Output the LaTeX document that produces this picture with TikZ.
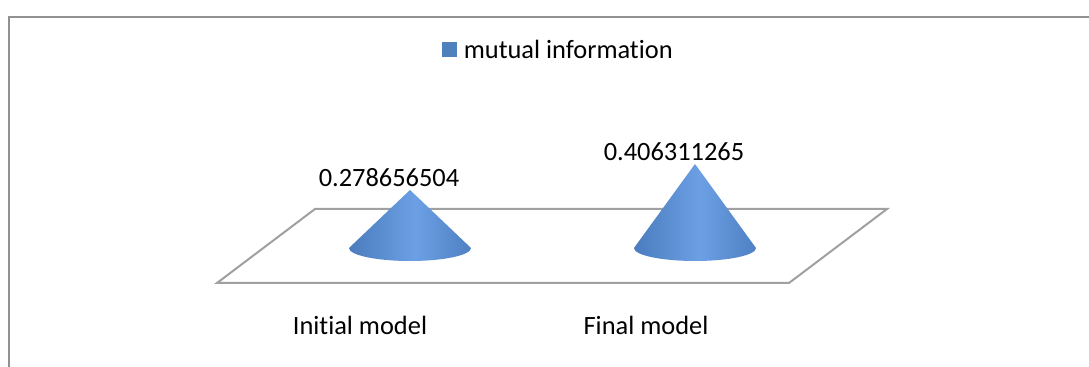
\documentclass[tikz,border=0pt]{standalone}
\usepackage{fontspec}
\setmainfont{Carlito}[Ligatures=NoCommon]
\usetikzlibrary{positioning}
\definecolor{coneblue}{RGB}{79,129,189}
\definecolor{conedark}{RGB}{50,90,155}
\definecolor{conemid}{RGB}{74,124,190}
\definecolor{conelight}{RGB}{108,160,228}
\definecolor{floorgray}{RGB}{160,160,160}
\definecolor{framegray}{RGB}{145,145,145}
\pgfdeclarehorizontalshading{coneshade}{100bp}{color(0bp)=(conedark); color(25bp)=(conemid); color(52bp)=(conelight); color(78bp)=(conemid); color(100bp)=(conedark)}
\newcommand{\drawcone}[3]{%
  \shade[shading=coneshade] (#1,#3) -- (#1-61,#2)
    arc[start angle=180, end angle=0, x radius=61, y radius=13] -- cycle;}
\tikzset{
  framerule/.style={draw=framegray, line width=1pt},
  floorline/.style={draw=floorgray, line width=1pt, fill=white, line join=miter},
  chartfont/.style={font=\fontsize{13.2}{16}\selectfont, inner sep=0pt},
  keybox/.style={fill=coneblue, minimum size=7.5pt, inner sep=0pt}
}
\begin{document}
\begin{tikzpicture}[x=0.5pt, y=-0.5pt]
  \useasboundingbox (0,0) rectangle (1089,367);
  \draw[framerule] (9,367) -- (9,17) -- (1089,17);
  % legend
  \node[keybox] (key) at (449.5,49.5) {};
  \node[chartfont, anchor=west, right=3pt of key] (keylabel) {mutual information};
  % floor
  \draw[floorline] (315,209) -- (887,209) -- (789,283) -- (217,283) -- cycle;
  % cones
  \drawcone{410}{248}{190}
  \drawcone{695}{248}{164}
  % values
  \node[chartfont] (val1) at (389,178) {0.278656504};
  \node[chartfont] (val2) at (674,152) {0.406311265};
  % categories
  \node[chartfont] (cat1) at (360,325) {Initial model};
  \node[chartfont] (cat2) at (646,325) {Final model};
\end{tikzpicture}
\end{document}
